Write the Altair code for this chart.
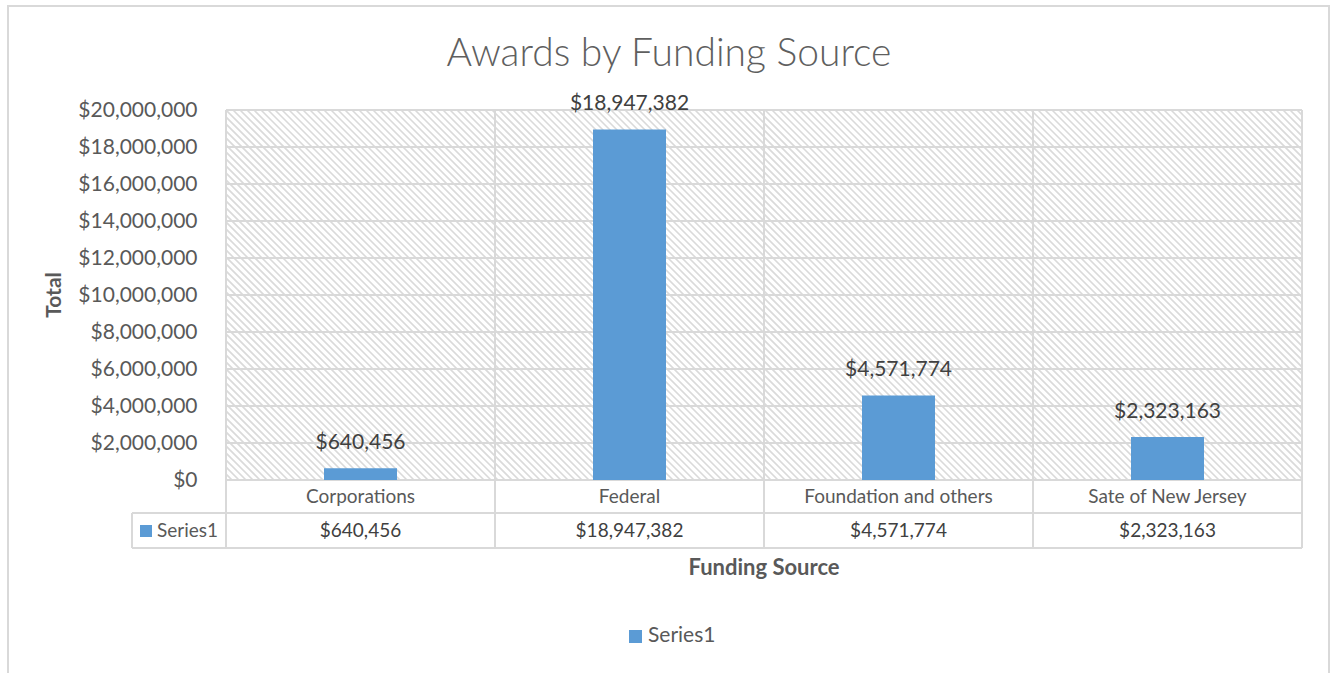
import altair as alt
import pandas as pd

categories = ["Corporations", "Federal", "Foundation and others", "Sate of New Jersey"]
totals = [640456, 18947382, 4571774, 2323163]
tick_values = [0, 2000000, 4000000, 6000000, 8000000, 10000000,
               12000000, 14000000, 16000000, 18000000, 20000000]
series_name = "Series1"
chart_title = "Awards by Funding Source"
x_title = "Funding Source"
y_title = "Total"

W, H = 1076, 370
FONT = "Lato"
GRID = "#d9d9d9"
BLUE = "#5b9bd5"
TXT = "#404040"
TXT2 = "#595959"

df = pd.DataFrame({"Category": categories, "Total": totals})
ticks_df = pd.DataFrame({"v": tick_values})
one = pd.DataFrame({"k": [0]})

xcat = alt.X("Category:N", sort=categories, axis=None,
             scale=alt.Scale(paddingInner=0, paddingOuter=0))
yq = alt.Scale(domain=[0, 20000000], nice=False)

# hatch pattern for the plot background
hatch = alt.Chart(alt.sequence(-55, 160, as_="i")).transform_calculate(
    x1="datum.i * 7", x2="datum.i * 7 + 370", y1="0", y2="370"
).mark_rule(clip=True, color="#dadada", strokeWidth=1.6).encode(
    x=alt.X("x1:Q", scale=None, axis=None), x2="x2:Q",
    y=alt.Y("y1:Q", scale=None, axis=None), y2="y2:Q"
)

grid = alt.Chart(ticks_df).mark_rule(color=GRID, strokeWidth=2).encode(
    y=alt.Y("v:Q", scale=yq, title=None,
            axis=alt.Axis(values=tick_values, format="$,.0f", grid=False, domain=False,
                          ticks=False, labelPadding=29, labelFontSize=21, labelFont=FONT,
                          labelColor=TXT2)),
    x=alt.value(0), x2=alt.value(W)
)

vlines = alt.Chart(df).mark_rule(color=GRID, strokeWidth=2).encode(
    x=alt.X("Category:N", sort=categories, axis=None, bandPosition=0,
            scale=alt.Scale(paddingInner=0, paddingOuter=0)),
    y=alt.value(0), y2=alt.value(438)
)
right_line = alt.Chart(one).mark_rule(color=GRID, strokeWidth=2).encode(
    x=alt.value(W), y=alt.value(0), y2=alt.value(438))
hl1 = alt.Chart(one).mark_rule(color=GRID, strokeWidth=2).encode(
    x=alt.value(-94), x2=alt.value(W), y=alt.value(403))
hl2 = alt.Chart(one).mark_rule(color=GRID, strokeWidth=2).encode(
    x=alt.value(-94), x2=alt.value(W), y=alt.value(438))
vl_left = alt.Chart(one).mark_rule(color=GRID, strokeWidth=2).encode(
    x=alt.value(-94), y=alt.value(403), y2=alt.value(438))

bars = alt.Chart(df).mark_bar(size=73, color=BLUE).encode(
    x=xcat, y=alt.Y("Total:Q", scale=yq, axis=None))
bar_labels = alt.Chart(df).mark_text(baseline="bottom", dy=-15, fontSize=21, font=FONT,
                                     color=TXT).encode(
    x=xcat, y=alt.Y("Total:Q", scale=yq, axis=None),
    text=alt.Text("Total:Q", format="$,.0f"))

row1 = alt.Chart(df).mark_text(fontSize=19, font=FONT, color=TXT2, baseline="middle").encode(
    x=xcat, y=alt.value(387), text="Category:N")
row2 = alt.Chart(df).mark_text(fontSize=19, font=FONT, color=TXT, baseline="middle").encode(
    x=xcat, y=alt.value(421), text=alt.Text("Total:Q", format="$,.0f"))

tbl_sq = alt.Chart(one).mark_square(size=144, color=BLUE, opacity=1).encode(
    x=alt.value(-80), y=alt.value(421))
tbl_txt = alt.Chart(one).transform_calculate(t=f"'{series_name}'").mark_text(
    fontSize=19, font=FONT, color=TXT2, align="left", baseline="middle").encode(
    x=alt.value(-69), y=alt.value(421), text="t:N")

xtitle = alt.Chart(one).transform_calculate(t=f"'{x_title}'").mark_text(
    fontSize=22, font=FONT, fontWeight="bold", color=TXT2, baseline="middle").encode(
    x=alt.value(538), y=alt.value(458), text="t:N")
ytitle = alt.Chart(one).transform_calculate(t=f"'{y_title}'").mark_text(
    fontSize=21, font=FONT, fontWeight="bold", color=TXT2, baseline="middle", angle=270).encode(
    x=alt.value(-171), y=alt.value(185), text="t:N")
title = alt.Chart(one).transform_calculate(t=f"'{chart_title}'").mark_text(
    fontSize=39, font=FONT, fontWeight=300, color="#5f5f5f", baseline="middle").encode(
    x=alt.value(443), y=alt.value(-56), text="t:N")

leg_sq = alt.Chart(one).mark_square(size=169, color=BLUE, opacity=1).encode(
    x=alt.value(409.5), y=alt.value(526.5))
leg_txt = alt.Chart(one).transform_calculate(t=f"'{series_name}'").mark_text(
    fontSize=21, font=FONT, color=TXT2, align="left", baseline="middle").encode(
    x=alt.value(422), y=alt.value(526), text="t:N")

border = alt.Chart(one).mark_rect(fill=None, stroke=GRID, strokeWidth=2).encode(
    x=alt.value(-218), x2=alt.value(1103), y=alt.value(-104), y2=alt.value(600))

chart = alt.layer(
    border, hatch, grid, vlines, right_line, hl1, hl2, vl_left,
    bars, bar_labels, row1, row2, tbl_sq, tbl_txt, xtitle, ytitle, title, leg_sq, leg_txt
).resolve_scale(x="independent", y="independent").properties(
    width=W, height=H,
    padding={"left": 226, "top": 110, "right": 30, "bottom": 193},
    autosize="none"
).configure_view(stroke=None).configure(background="white")

chart.save("out.html", embed_options={"renderer": "svg", "actions": False})
